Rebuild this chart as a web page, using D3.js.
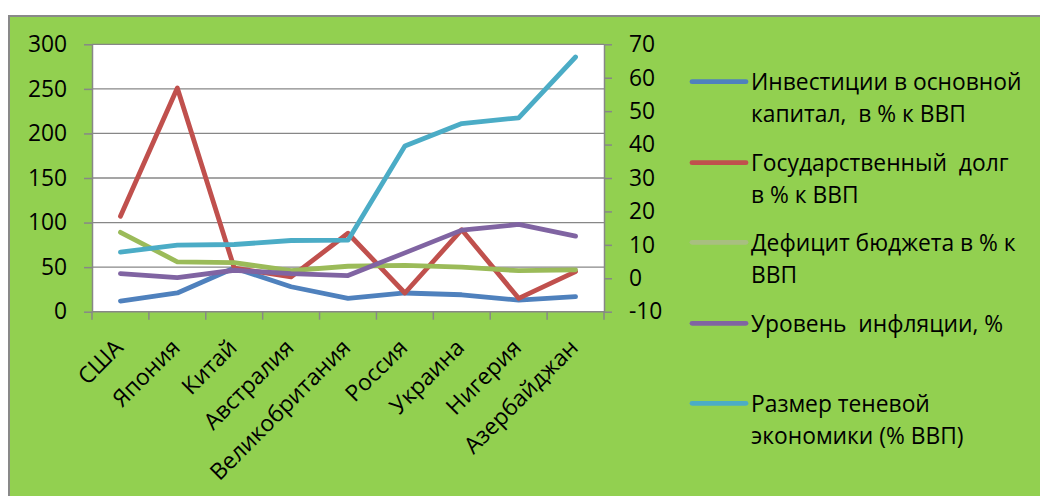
<!DOCTYPE html>
<html><head><meta charset="utf-8">
<script src="https://cdn.jsdelivr.net/npm/d3@7"></script>
<style>
html,body{margin:0;padding:0;background:#fff;overflow:hidden;}
svg text{font-family:"Open Sans",sans-serif;font-size:22.8px;fill:#000;white-space:pre;}
</style></head><body>
<svg id="c" width="1040" height="496"></svg>
<script>
const categories = ["США","Япония","Китай","Австралия","Великобритания","Россия","Украина","Нигерия","Азербайджан"];
const investments = [12, 21, 49, 28, 15, 21, 19, 13, 17];
const debt = [107, 251, 49, 39, 88, 21, 92, 15, 45];
const deficit = [89, 56, 55, 46, 51, 52, 50, 46, 47];
const inflation = [1.4, 0.2, 2.4, 1.4, 0.8, 7.6, 14.4, 16.1, 12.6];
const shadowEconomy = [7.8, 9.9, 10.1, 11.3, 11.4, 39.6, 46.3, 48.0, 66.2];
const leftTicks = [0, 50, 100, 150, 200, 250, 300];
const rightTicks = [-10, 0, 10, 20, 30, 40, 50, 60, 70];
const seriesNames = [
  ["Инвестиции в основной", "капитал,  в % к ВВП"],
  ["Государственный  долг", "в % к ВВП"],
  ["Дефицит бюджета в % к", "ВВП"],
  ["Уровень  инфляции, %"],
  ["Размер теневой", "экономики (% ВВП)"]
];
const seriesColors = ["#4F81BD", "#C0504D", "#9BBB59", "#8064A2", "#4BACC6"];
const legendColors = ["#4F81BD", "#C0504D", "#A8BF80", "#8064A2", "#4BACC6"];
const seriesAxis = ["left", "left", "left", "right", "right"];
const seriesValues = [investments, debt, deficit, inflation, shadowEconomy];

const svg = d3.select("#c");
const plot = {left: 92, right: 604, top: 44.3, bottom: 311.7};

// chart background
svg.append("rect").attr("x", 8).attr("y", 15).attr("width", 1032).attr("height", 481).attr("fill", "#92D050");
svg.append("path").attr("d", "M9,496V16H1040").attr("fill", "none").attr("stroke", "#898989").attr("stroke-width", 2);

const x = d3.scaleBand().domain(categories).range([plot.left, plot.right]).padding(0);
const yL = d3.scaleLinear().domain([0, 300]).range([plot.bottom, plot.top]);
const yR = d3.scaleLinear().domain([-10, 70]).range([plot.bottom, plot.top]);

svg.append("rect").attr("x", plot.left).attr("y", plot.top)
  .attr("width", plot.right - plot.left).attr("height", plot.bottom - plot.top).attr("fill", "#fff");

// gridlines
svg.append("g").selectAll("line").data(leftTicks.filter(t => t !== 0)).join("line")
  .attr("x1", plot.left).attr("x2", plot.right)
  .attr("y1", d => yL(d)).attr("y2", d => yL(d))
  .attr("stroke", "#878787").attr("stroke-width", 1.3);

const gray = "#878787";
function styleAxis(g) {
  g.selectAll("path.domain").attr("stroke", gray).attr("stroke-width", 1.5);
  g.selectAll(".tick line").attr("stroke", gray).attr("stroke-width", 1.5);
  g.selectAll(".tick text").attr("font-size", null).attr("font-family", null).attr("fill", "#000");
}

const axL = svg.append("g").attr("transform", `translate(${plot.left},0)`)
  .call(d3.axisLeft(yL).tickValues(leftTicks).tickSize(8).tickSizeOuter(0).tickPadding(17));
styleAxis(axL);
const axR = svg.append("g").attr("transform", `translate(${plot.right},0)`)
  .call(d3.axisRight(yR).tickValues(rightTicks).tickSize(8).tickSizeOuter(0).tickPadding(17).tickFormat(d3.format("d")));
styleAxis(axR);
axR.selectAll(".tick text").text(d => d < 0 ? "-" + Math.abs(d) : d);

// bottom axis with ticks at category boundaries
const bounds = categories.map(c => x(c)).concat([plot.right]);
const axB = svg.append("g");
axB.append("line").attr("x1", plot.left).attr("x2", plot.right).attr("y1", plot.bottom).attr("y2", plot.bottom)
  .attr("stroke", gray).attr("stroke-width", 1.5);
axB.selectAll("line.t").data(bounds).join("line").attr("class", "t")
  .attr("x1", d => d).attr("x2", d => d).attr("y1", plot.bottom).attr("y2", plot.bottom + 8)
  .attr("stroke", gray).attr("stroke-width", 1.5);
axB.selectAll("text").data(categories).join("text")
  .attr("text-anchor", "end")
  .attr("transform", d => `translate(${x(d) + x.bandwidth() / 2 + 4},349) rotate(-45)`)
  .text(d => d);

// series lines
seriesValues.forEach((vals, si) => {
  const ys = seriesAxis[si] === "left" ? yL : yR;
  const line = d3.line().x((d, i) => x(categories[i]) + x.bandwidth() / 2).y(d => ys(d));
  svg.append("path").datum(vals).attr("d", line)
    .attr("fill", "none").attr("stroke", seriesColors[si]).attr("stroke-width", 4.8)
    .attr("stroke-linecap", "round").attr("stroke-linejoin", "round");
});

// legend
const legendY = [81.7, 162.7, 242.3, 323.3, 403.3];
const lg = svg.append("g");
seriesNames.forEach((lines, si) => {
  const g = lg.append("g").attr("transform", `translate(0,${legendY[si]})`);
  g.append("line").attr("x1", 692).attr("x2", 746).attr("y1", 0).attr("y2", 0)
    .attr("stroke", legendColors[si]).attr("stroke-width", 4.8).attr("stroke-linecap", "round");
  lines.forEach((t, li) => {
    g.append("text").attr("x", 751).attr("y", 8.3 + li * 32).text(t);
  });
});
</script>
</body></html>
